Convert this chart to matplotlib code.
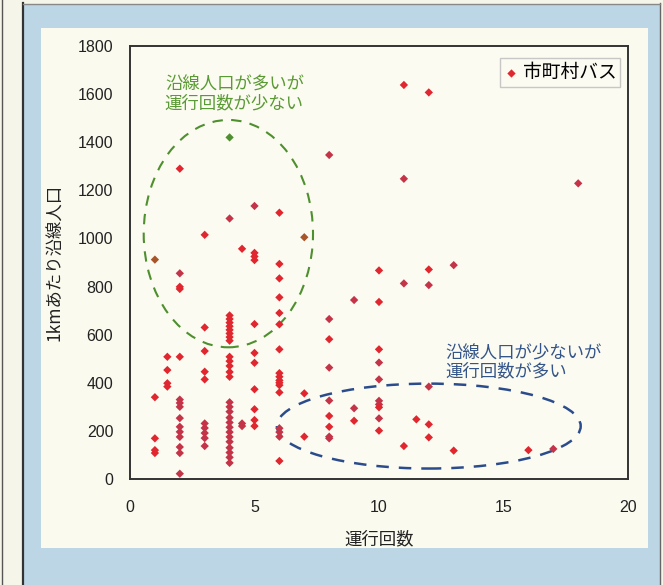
import matplotlib
matplotlib.use("Agg")
import matplotlib.pyplot as plt
from matplotlib.patches import Ellipse, Rectangle
from matplotlib.lines import Line2D

plt.rcParams['font.family'] = ['Noto Sans CJK JP', 'DejaVu Sans']

# ---- data (運行回数, 1kmあたり沿線人口) ----
run_counts = (
    [1] * 5 + [1.5] * 4 + [2] * 15 + [3] * 10 + [4] * 28 + [4.5] * 3 + [5] * 11 +
    [6] * 17 + [7] * 3 + [8] * 9 + [9] * 3 + [10] * 10 + [11] * 4 + [11.5] * 1 +
    [12] * 6 + [13] * 2 + [16] * 1 + [17] * 1 + [18] * 1
)
population = [
    912, 340, 169, 120, 108,
    508, 453, 398, 384,
    1290, 855, 799, 790, 508, 330, 316, 300, 253, 217, 196, 175, 133, 108, 22,
    1015, 630, 532, 446, 414, 231, 212, 191, 170, 137,
    1420, 1083, 680, 665, 650, 635, 620, 605, 590, 575, 508, 490, 470, 445, 425,
    319, 300, 280, 255, 235, 215, 195, 175, 155, 130, 110, 90, 67,
    957, 231, 220,
    1135, 940, 925, 910, 644, 524, 483, 373, 290, 245, 220,
    1107, 894, 834, 755, 690, 643, 539, 440, 425, 410, 400, 390, 360, 211, 195, 176, 75,
    1005, 356, 176,
    1347, 665, 581, 463, 326, 262, 217, 176, 169,
    744, 294, 242,
    867, 736, 539, 484, 414, 325, 310, 298, 252, 201,
    1638, 1248, 813, 137,
    248,
    1607, 871, 806, 384, 227, 173,
    889, 118,
    120,
    125,
    1229,
]
# print tone of each mark in the scan: r = red, p = dark rose, g = green, b = brown
tone = (
    "brrrr" + "rrrr" + "rprrrppppppppp" + "p" + "rrrrrpppp" + "p" +
    "gp" + "rrrrrrrr" + "rrrrr" + "ppppppppppppp" +
    "rpp" + "prrrrrrrrrr" +
    "rrrrrrrrrrrrrpppr" + "brr" + "pprpprrpp" + "ppr" + "rrrpppprpr" +
    "rppr" + "r" + "rrpprr" + "pr" + "r" + "p" + "p"
)
series_name = "市町村バス"
x_label = "運行回数"
y_label = "1kmあたり沿線人口"
note_many = "沿線人口が多いが\n運行回数が少ない"
note_few = "沿線人口が少ないが\n運行回数が多い"
x_ticks = [0, 5, 10, 15, 20]
y_ticks = [0, 200, 400, 600, 800, 1000, 1200, 1400, 1600, 1800]

tone_colors = {"r": "#e0262e", "p": "#c43448", "g": "#4e8f2e", "b": "#a8552a"}
colors = [tone_colors[t] for t in tone[:len(population)]]
colors += [tone_colors["r"]] * (len(population) - len(colors))

W, H = 663, 585
fig = plt.figure(figsize=(W / 100, H / 100), dpi=100)
fig.patch.set_facecolor("#f5f5ea")

def px_rect(x0, y0, x1, y1, **kw):
    fig.patches.append(Rectangle((x0 / W, 1 - y1 / H), (x1 - x0) / W, (y1 - y0) / H,
                                 transform=fig.transFigure, zorder=-5, **kw))

def px_line(xs, ys, **kw):
    fig.lines.append(Line2D([v / W for v in xs], [1 - v / H for v in ys],
                            transform=fig.transFigure, zorder=-4, **kw))

px_rect(23, 5, 660, 585, facecolor="#bcd6e6", edgecolor="none")
px_rect(41, 28, 648, 548, facecolor="#fbfaef", edgecolor="none")
px_line([23, 23], [3, 585], color="#333333", lw=1.6)
px_line([660, 660], [3, 585], color="#666666", lw=1.0)
px_line([23, 660], [4, 4], color="#888888", lw=1.0)
px_line([1.5, 1.5], [0, 585], color="#555555", lw=1.0)

ax = fig.add_axes([130 / W, 1 - 479 / H, (628 - 130) / W, (479 - 46) / H])
ax.set_facecolor("#fcfbf1")
ax.scatter(run_counts, population, s=18, marker="D", c=colors, linewidths=0,
           zorder=3, label=series_name)

ax.set_xlim(0, 20)
ax.set_ylim(0, 1800)
ax.set_xticks(x_ticks)
ax.set_yticks(y_ticks)
ax.tick_params(length=0, pad=12, labelsize=11.5, labelcolor="#222222")
for lab in ax.get_xticklabels() + ax.get_yticklabels():
    lab.set_family(["Liberation Sans", "DejaVu Sans"])
ax.tick_params(axis="x", pad=15)
for sp in ax.spines.values():
    sp.set_color("#333333")
    sp.set_linewidth(1.4)

ax.set_xlabel(x_label, fontsize=12.5, labelpad=11, color="#222222")
ax.set_ylabel(y_label, fontsize=12.5, labelpad=10, color="#222222")

# annotation ellipses
ax.add_patch(Ellipse((3.95, 1020), 6.8, 945, fill=False, edgecolor="#4e8f2e",
                     linestyle=(0, (5, 4)), linewidth=1.5, zorder=2))
ax.add_patch(Ellipse((12.0, 220), 12.2, 353, fill=False, edgecolor="#2b4c8c",
                     linestyle=(0, (5, 4)), linewidth=1.8, zorder=2))
ax.text(1.4, 1600, note_many, color="#5a9a34", fontsize=12.5, linespacing=1.05,
        va="center", ha="left")
ax.text(12.65, 486, note_few, color="#34558a", fontsize=12.5, linespacing=1.05,
        va="center", ha="left")

leg = ax.legend(loc="upper right", bbox_to_anchor=(0.984, 0.972), borderaxespad=0,
                fontsize=13.5, frameon=True, fancybox=False, handletextpad=0.2,
                borderpad=0.2, handlelength=0.8, markerscale=1.0)
leg.get_frame().set_edgecolor("#bbbbbb")
leg.get_frame().set_facecolor("#fcfbf1")
leg.get_frame().set_linewidth(1.0)
for h in leg.legend_handles:
    h.set_color("#e0262e")

fig.savefig("out.png", dpi=100, facecolor=fig.get_facecolor())
